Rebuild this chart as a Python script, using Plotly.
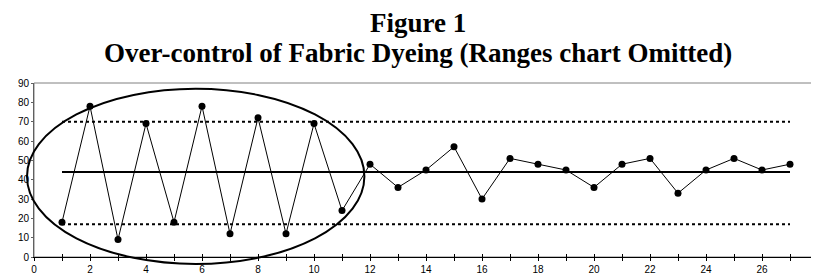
import plotly.graph_objects as go

samples = list(range(1, 28))
values = [18, 78, 9, 69, 18, 78, 12, 72, 12, 69, 24, 48, 36, 45, 57, 30, 51, 48, 45, 36, 48, 51, 33, 45, 51, 45, 48]
center_line = 44
ucl = 70
lcl = 17
line_start, line_end = 1, 27
x_range = [0, 28]
y_range = [0, 90]
title_line1 = "Figure 1"
title_line2 = "Over-control of Fabric Dyeing (Ranges chart Omitted)"
# ellipse highlighting the over-control period (data coordinates)
ell_x = [-0.25, 11.8]
ell_y = [-3.6, 87]

W, H = 811, 270
M = dict(l=26, r=1, t=75, b=21)
plot_h = H - M["t"] - M["b"]
plot_w = W - M["l"] - M["r"]

def px(v):
    return (v - x_range[0]) / (x_range[1] - x_range[0])

def py(v):
    return (v - y_range[0]) / (y_range[1] - y_range[0])

def paper_y_from_top(pix):
    return (H - M["b"] - pix) / plot_h

fig = go.Figure()
fig.add_trace(go.Scatter(x=[line_start, line_end], y=[ucl, ucl], mode="lines",
                         line=dict(color="black", width=2, dash="dot"), hoverinfo="skip"))
fig.add_trace(go.Scatter(x=[line_start, line_end], y=[lcl, lcl], mode="lines",
                         line=dict(color="black", width=2, dash="dot"), hoverinfo="skip"))
fig.add_trace(go.Scatter(x=[line_start, line_end], y=[center_line, center_line], mode="lines",
                         line=dict(color="black", width=2), hoverinfo="skip"))
fig.add_trace(go.Scatter(x=samples, y=values, mode="lines+markers",
                         line=dict(color="black", width=1),
                         marker=dict(color="black", size=7)))
# empty trace on overlay axis to draw inner half of crossing ticks
fig.add_trace(go.Scatter(x=[], y=[], xaxis="x2", hoverinfo="skip"))

# plot frame (grey)
fig.add_shape(type="rect", xref="paper", yref="paper", x0=0, x1=1, y0=0, y1=1,
              line=dict(color="#808080", width=1), layer="below")
fig.add_shape(type="circle", xref="paper", yref="paper",
              x0=px(ell_x[0]), x1=px(ell_x[1]), y0=py(ell_y[0]), y1=py(ell_y[1]),
              line=dict(color="black", width=2))

title_font = dict(family="Liberation Serif, Times New Roman, serif", size=27, color="black")
title_cx = (418 - 8 - M["l"]) / plot_w
fig.add_annotation(text="<b>" + title_line1 + "</b>", xref="paper", yref="paper",
                   x=title_cx, y=paper_y_from_top(15), xanchor="center", yanchor="middle",
                   showarrow=False, font=title_font)
fig.add_annotation(text="<b>" + title_line2 + "</b>", xref="paper", yref="paper",
                   x=title_cx, y=paper_y_from_top(45), xanchor="center", yanchor="middle",
                   showarrow=False, font=title_font)

fig.update_layout(
    width=W, height=H,
    margin=M,
    paper_bgcolor="white", plot_bgcolor="white",
    showlegend=False,
    font=dict(family="Liberation Sans, Arial, sans-serif", size=10, color="black"),
    xaxis2=dict(overlaying="x", anchor="y", side="bottom", matches="x", range=x_range,
                dtick=2, tick0=0, showgrid=False, zeroline=False, showline=False,
                showticklabels=False, ticks="inside", ticklen=3, tickcolor="black",
                minor=dict(dtick=1, ticks="inside", ticklen=3, tickcolor="black")),
)
fig.layout.xaxis.update(range=x_range, dtick=2, tick0=0, showgrid=False, zeroline=False,
                        showline=True, linecolor="black", linewidth=1,
                        ticks="outside", ticklen=3, tickcolor="black",
                        minor=dict(dtick=1, ticks="outside", ticklen=3, tickcolor="black"),
                        tickfont=dict(size=10))
fig.update_yaxes(range=y_range, dtick=10, showgrid=False, zeroline=False,
                 showline=True, linecolor="#606060", linewidth=1,
                 ticks="outside", ticklen=2, tickcolor="#606060",
                 tickfont=dict(size=10))

fig.write_html("out.html")
